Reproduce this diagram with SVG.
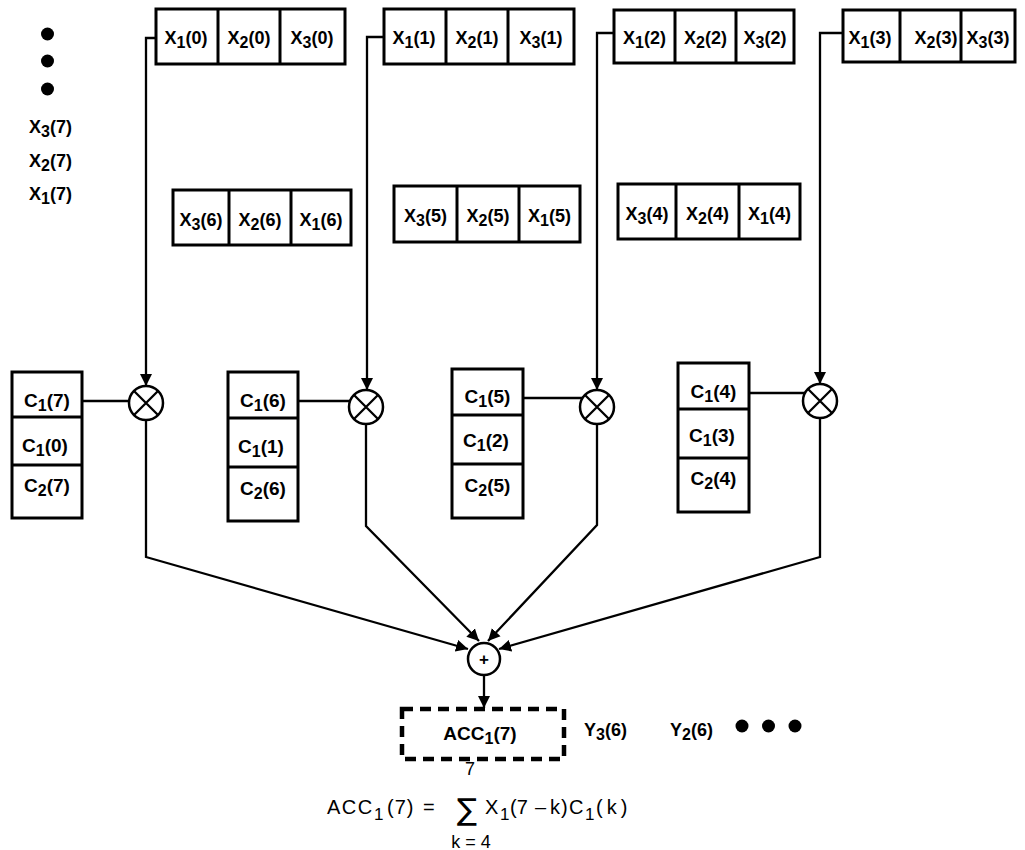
<svg xmlns="http://www.w3.org/2000/svg" width="1025" height="850" viewBox="0 0 1025 850">
  <style>
    .box { fill: #fff; stroke: #000; stroke-width: 3; }
    .div { stroke: #000; stroke-width: 3; }
    .wire { fill: none; stroke: #000; stroke-width: 2.3; }
    .op { fill: #fff; stroke: #000; stroke-width: 2.5; }
    .lbl { font-family: "Liberation Sans", Arial, sans-serif; font-weight: bold; font-size: 18px; text-anchor: middle; fill: #000; }
    .lblc { font-family: "Liberation Sans", Arial, sans-serif; font-weight: bold; font-size: 19px; text-anchor: middle; fill: #000; }
    .side { font-family: "Liberation Sans", Arial, sans-serif; font-weight: bold; font-size: 18px; fill: #000; }
    .sub { font-size: 16px; }
    .eq { font-family: "Liberation Sans", Arial, sans-serif; font-size: 20px; fill: #000; }
    .eqsub { font-family: "Liberation Sans", Arial, sans-serif; font-size: 17px; fill: #000; }
    .sigma { font-family: "DejaVu Sans", "Liberation Sans", sans-serif; font-size: 30px; fill: #000; }
    .eqs { font-family: "Liberation Sans", Arial, sans-serif; font-size: 18px; fill: #000; text-anchor: middle; }
  </style>
  <defs>
    <marker id="arrow" viewBox="0 0 10 10" refX="10" refY="5" markerWidth="12" markerHeight="13" markerUnits="userSpaceOnUse" orient="auto">
      <path d="M0,0 L10,5 L0,10 z" fill="#000"/>
    </marker>
  </defs>

  <!-- pending input samples -->
  <g id="input-queue">
    <circle cx="47.5" cy="34" r="6.5"/>
    <circle cx="47.5" cy="61" r="6.5"/>
    <circle cx="47.5" cy="89" r="6.5"/>
    <text class="side" x="29" y="133">X<tspan class="sub" dy="4">3</tspan><tspan dy="-4">(7)</tspan></text>
    <text class="side" x="29" y="167">X<tspan class="sub" dy="4">2</tspan><tspan dy="-4">(7)</tspan></text>
    <text class="side" x="29" y="200">X<tspan class="sub" dy="4">1</tspan><tspan dy="-4">(7)</tspan></text>
  </g>

  <!-- top sample registers -->
  <g id="reg-x0">
    <rect class="box" x="156" y="9" width="189" height="55"/>
    <line class="div" x1="218" y1="9" x2="218" y2="64"/>
    <line class="div" x1="280" y1="9" x2="280" y2="64"/>
    <text class="lbl" x="186" y="44">X<tspan class="sub" dy="4">1</tspan><tspan dy="-4">(0)</tspan></text>
    <text class="lbl" x="249" y="44">X<tspan class="sub" dy="4">2</tspan><tspan dy="-4">(0)</tspan></text>
    <text class="lbl" x="312" y="44">X<tspan class="sub" dy="4">3</tspan><tspan dy="-4">(0)</tspan></text>
  </g>
  <g id="reg-x1">
    <rect class="box" x="384" y="9" width="190" height="55"/>
    <line class="div" x1="446" y1="9" x2="446" y2="64"/>
    <line class="div" x1="508" y1="9" x2="508" y2="64"/>
    <text class="lbl" x="414" y="44">X<tspan class="sub" dy="4">1</tspan><tspan dy="-4">(1)</tspan></text>
    <text class="lbl" x="477" y="44">X<tspan class="sub" dy="4">2</tspan><tspan dy="-4">(1)</tspan></text>
    <text class="lbl" x="541" y="44">X<tspan class="sub" dy="4">3</tspan><tspan dy="-4">(1)</tspan></text>
  </g>
  <g id="reg-x2">
    <rect class="box" x="614" y="10" width="180" height="53"/>
    <line class="div" x1="675" y1="10" x2="675" y2="63"/>
    <line class="div" x1="736" y1="10" x2="736" y2="63"/>
    <text class="lbl" x="644.5" y="44">X<tspan class="sub" dy="4">1</tspan><tspan dy="-4">(2)</tspan></text>
    <text class="lbl" x="705.5" y="44">X<tspan class="sub" dy="4">2</tspan><tspan dy="-4">(2)</tspan></text>
    <text class="lbl" x="765" y="44">X<tspan class="sub" dy="4">3</tspan><tspan dy="-4">(2)</tspan></text>
  </g>
  <g id="reg-x3">
    <rect class="box" x="843" y="10" width="172" height="52"/>
    <line class="div" x1="900" y1="10" x2="900" y2="62"/>
    <line class="div" x1="961" y1="10" x2="961" y2="62"/>
    <text class="lbl" x="870" y="44">X<tspan class="sub" dy="4">1</tspan><tspan dy="-4">(3)</tspan></text>
    <text class="lbl" x="936" y="44">X<tspan class="sub" dy="4">2</tspan><tspan dy="-4">(3)</tspan></text>
    <text class="lbl" x="988" y="44">X<tspan class="sub" dy="4">3</tspan><tspan dy="-4">(3)</tspan></text>
  </g>

  <!-- staged sample registers -->
  <g id="reg-x6">
    <rect class="box" x="173" y="190" width="178" height="55"/>
    <line class="div" x1="229" y1="190" x2="229" y2="245"/>
    <line class="div" x1="291" y1="190" x2="291" y2="245"/>
    <text class="lbl" x="201" y="226">X<tspan class="sub" dy="4">3</tspan><tspan dy="-4">(6)</tspan></text>
    <text class="lbl" x="260" y="226">X<tspan class="sub" dy="4">2</tspan><tspan dy="-4">(6)</tspan></text>
    <text class="lbl" x="321" y="226">X<tspan class="sub" dy="4">1</tspan><tspan dy="-4">(6)</tspan></text>
  </g>
  <g id="reg-x5">
    <rect class="box" x="394" y="186" width="186" height="56"/>
    <line class="div" x1="457" y1="186" x2="457" y2="242"/>
    <line class="div" x1="519" y1="186" x2="519" y2="242"/>
    <text class="lbl" x="425.5" y="222">X<tspan class="sub" dy="4">3</tspan><tspan dy="-4">(5)</tspan></text>
    <text class="lbl" x="488" y="222">X<tspan class="sub" dy="4">2</tspan><tspan dy="-4">(5)</tspan></text>
    <text class="lbl" x="549.5" y="222">X<tspan class="sub" dy="4">1</tspan><tspan dy="-4">(5)</tspan></text>
  </g>
  <g id="reg-x4">
    <rect class="box" x="618" y="184" width="182" height="55"/>
    <line class="div" x1="676" y1="184" x2="676" y2="239"/>
    <line class="div" x1="739" y1="184" x2="739" y2="239"/>
    <text class="lbl" x="647" y="220">X<tspan class="sub" dy="4">3</tspan><tspan dy="-4">(4)</tspan></text>
    <text class="lbl" x="707.5" y="220">X<tspan class="sub" dy="4">2</tspan><tspan dy="-4">(4)</tspan></text>
    <text class="lbl" x="769.5" y="220">X<tspan class="sub" dy="4">1</tspan><tspan dy="-4">(4)</tspan></text>
  </g>

  <!-- coefficient registers -->
  <g id="coef-0">
    <rect class="box" x="12" y="372" width="70" height="146"/>
    <line class="div" x1="12" y1="417" x2="82" y2="417"/>
    <line class="div" x1="12" y1="465" x2="82" y2="465"/>
    <text class="lblc" x="47" y="407">C<tspan class="sub" dy="4">1</tspan><tspan dy="-4">(7)</tspan></text>
    <text class="lblc" x="45" y="452">C<tspan class="sub" dy="4">1</tspan><tspan dy="-4">(0)</tspan></text>
    <text class="lblc" x="47" y="492">C<tspan class="sub" dy="4">2</tspan><tspan dy="-4">(7)</tspan></text>
  </g>
  <g id="coef-1">
    <rect class="box" x="228" y="372" width="70" height="149"/>
    <line class="div" x1="228" y1="418" x2="298" y2="418"/>
    <line class="div" x1="228" y1="467" x2="298" y2="467"/>
    <text class="lblc" x="263" y="407">C<tspan class="sub" dy="4">1</tspan><tspan dy="-4">(6)</tspan></text>
    <text class="lblc" x="261" y="453">C<tspan class="sub" dy="4">1</tspan><tspan dy="-4">(1)</tspan></text>
    <text class="lblc" x="263" y="495">C<tspan class="sub" dy="4">2</tspan><tspan dy="-4">(6)</tspan></text>
  </g>
  <g id="coef-2">
    <rect class="box" x="452" y="369" width="71" height="149"/>
    <line class="div" x1="452" y1="415" x2="523" y2="415"/>
    <line class="div" x1="452" y1="464" x2="523" y2="464"/>
    <text class="lblc" x="487.5" y="403">C<tspan class="sub" dy="4">1</tspan><tspan dy="-4">(5)</tspan></text>
    <text class="lblc" x="486" y="447">C<tspan class="sub" dy="4">1</tspan><tspan dy="-4">(2)</tspan></text>
    <text class="lblc" x="487.5" y="492">C<tspan class="sub" dy="4">2</tspan><tspan dy="-4">(5)</tspan></text>
  </g>
  <g id="coef-3">
    <rect class="box" x="678" y="363" width="71" height="149"/>
    <line class="div" x1="678" y1="409" x2="749" y2="409"/>
    <line class="div" x1="678" y1="458" x2="749" y2="458"/>
    <text class="lblc" x="713.5" y="398">C<tspan class="sub" dy="4">1</tspan><tspan dy="-4">(4)</tspan></text>
    <text class="lblc" x="712" y="442">C<tspan class="sub" dy="4">1</tspan><tspan dy="-4">(3)</tspan></text>
    <text class="lblc" x="713.5" y="485">C<tspan class="sub" dy="4">2</tspan><tspan dy="-4">(4)</tspan></text>
  </g>

  <!-- multipliers -->
  <g id="mul-0">
    <circle class="op" cx="146" cy="403" r="17"/>
    <path class="wire" d="M134,391 L158,415 M158,391 L134,415"/>
  </g>
  <g id="mul-1">
    <circle class="op" cx="366" cy="407" r="17"/>
    <path class="wire" d="M354,395 L378,419 M378,395 L354,419"/>
  </g>
  <g id="mul-2">
    <circle class="op" cx="597" cy="407" r="17"/>
    <path class="wire" d="M585,395 L609,419 M609,395 L585,419"/>
  </g>
  <g id="mul-3">
    <circle class="op" cx="820" cy="401" r="17"/>
    <path class="wire" d="M808,389 L832,413 M832,389 L808,413"/>
  </g>

  <!-- adder -->
  <g id="adder">
    <circle class="op" cx="484" cy="659" r="16"/>
    <text x="484" y="665" text-anchor="middle" font-family="Liberation Sans, Arial, sans-serif" font-weight="bold" font-size="17">+</text>
  </g>

  <!-- accumulator -->
  <g id="acc">
    <rect x="402" y="709" width="162" height="50" fill="none" stroke="#000" stroke-width="4.5" stroke-dasharray="11 7"/>
    <text class="lblc" x="480" y="740">ACC<tspan class="sub" dy="4">1</tspan><tspan dy="-4">(7)</tspan></text>
  </g>

  <!-- trailing outputs -->
  <g id="outputs">
    <text class="side" x="584" y="736">Y<tspan class="sub" dy="4">3</tspan><tspan dy="-4">(6)</tspan></text>
    <text class="side" x="670" y="736">Y<tspan class="sub" dy="4">2</tspan><tspan dy="-4">(6)</tspan></text>
    <circle cx="742" cy="726" r="6.5"/>
    <circle cx="768.5" cy="726" r="6.5"/>
    <circle cx="795" cy="726" r="6.5"/>
  </g>

  <!-- connectors -->
  <g id="connectors">
    <polyline class="wire" points="156,38 146,38 146,386" marker-end="url(#arrow)"/>
    <polyline class="wire" points="384,37 367,37 367,390" marker-end="url(#arrow)"/>
    <polyline class="wire" points="614,33 597,33 597,390" marker-end="url(#arrow)"/>
    <polyline class="wire" points="843,33 820,33 820,384" marker-end="url(#arrow)"/>

    <line class="wire" x1="82" y1="401" x2="129" y2="401"/>
    <line class="wire" x1="298" y1="401" x2="350" y2="401"/>
    <line class="wire" x1="523" y1="398" x2="583" y2="398"/>
    <line class="wire" x1="749" y1="393" x2="805" y2="393"/>

    <polyline class="wire" points="146,420 146,557 468,649" marker-end="url(#arrow)"/>
    <polyline class="wire" points="366,424 366,526 479,641" marker-end="url(#arrow)"/>
    <polyline class="wire" points="597,424 597,525 488,641" marker-end="url(#arrow)"/>
    <polyline class="wire" points="820,418 820,557 499,649" marker-end="url(#arrow)"/>

    <line class="wire" x1="484" y1="675" x2="484" y2="708" marker-end="url(#arrow)"/>
  </g>

  <!-- accumulation formula -->
  <g id="formula">
    <text class="eqs" x="470" y="775">7</text>
    <text class="eq" x="327" y="814" letter-spacing="1.5">ACC</text>
    <text class="eqsub" x="374" y="820">1</text>
    <text class="eq" x="387" y="814" letter-spacing="1">(7)</text>
    <text class="eq" x="423" y="814">=</text>
    <text class="sigma" x="457" y="820">∑</text>
    <text class="eq" x="485" y="814">X</text>
    <text class="eqsub" x="500" y="820">1</text>
    <text class="eq" x="510" y="814">(7</text>
    <text class="eq" x="535" y="814">–</text>
    <text class="eq" x="550" y="814">k</text>
    <text class="eq" x="561" y="814">)</text>
    <text class="eq" x="569" y="814">C</text>
    <text class="eqsub" x="585" y="820">1</text>
    <text class="eq" x="596" y="814" letter-spacing="4">(k)</text>
    <text class="eqs" x="471" y="848">k = 4</text>
  </g>
</svg>
